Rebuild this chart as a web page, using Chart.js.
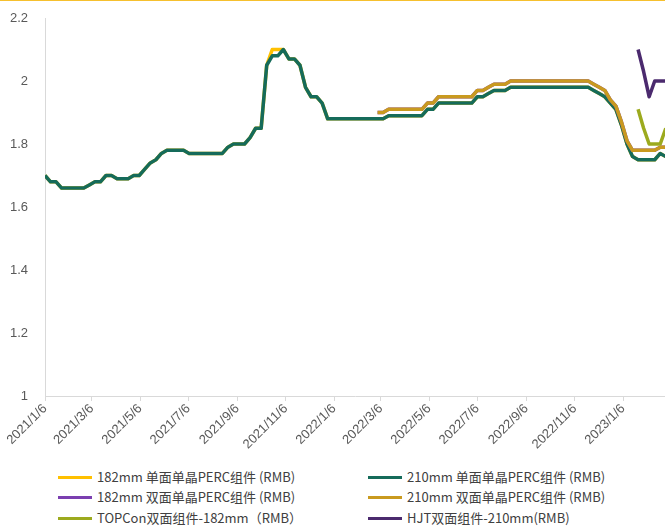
<!DOCTYPE html>
<html>
<head>
<meta charset="utf-8">
<script src="https://cdn.jsdelivr.net/npm/chart.js@4.4.0/dist/chart.umd.min.js"></script>
<style>
  html, body { margin: 0; padding: 0; background: #fff; }
  #wrap { position: relative; width: 665px; height: 527px; overflow: hidden; background: #fff; }
  #topline { position: absolute; left: 0; top: 0; width: 665px; height: 1px; background: #f6c02e; z-index: 2; }
  #chart { position: absolute; left: 0; top: 0; }
  #legend { position: absolute; left: 0; top: 467px; width: 665px; height: 60px;
            font-family: "Noto Sans CJK SC", "Noto Sans", sans-serif; font-size: 13px; color: #404040; }
  .item { position: absolute; height: 20px; line-height: 20px; white-space: nowrap; }
  .swatch { position: absolute; left: 0; top: 9px; width: 34px; height: 3px; }
  .label { position: absolute; left: 39px; top: 0; }
</style>
</head>
<body>
<div id="wrap">
  <div id="topline"></div>
  <canvas id="chart" width="665" height="462"></canvas>
  <div id="legend"></div>
</div>
<script>
// Weekly module price quotes (RMB/W), first quote on 2021/1/6, one per week.
const startDate = '2021-01-06';

const seriesNames = [
  '182mm 单面单晶PERC组件 (RMB)',
  '210mm 单面单晶PERC组件 (RMB)',
  '182mm 双面单晶PERC组件 (RMB)',
  '210mm 双面单晶PERC组件 (RMB)',
  'TOPCon双面组件-182mm（RMB）',
  'HJT双面组件-210mm(RMB)'
];
const seriesColors = ['#ffc000', '#156b5a', '#7b3fb0', '#c99a1f', '#9caa1e', '#4b2a6e'];

const _ = null;

const mono182 = [
  1.70,1.68,1.68,1.66,1.66,1.66,1.66,1.66,1.67,1.68,
  1.68,1.70,1.70,1.69,1.69,1.69,1.70,1.70,1.72,1.74,
  1.75,1.77,1.78,1.78,1.78,1.78,1.77,1.77,1.77,1.77,
  1.77,1.77,1.77,1.79,1.80,1.80,1.80,1.82,1.85,1.85,
  2.05,2.10,2.10,2.10,2.07,2.07,2.05,1.98,1.95,1.95,
  1.93,1.88,1.88,1.88,1.88,1.88,1.88,1.88,1.88,1.88,
  1.88,1.88,1.89,1.89,1.89,1.89,1.89,1.89,1.89,1.91,
  1.91,1.93,1.93,1.93,1.93,1.93,1.93,1.93,1.95,1.95,
  1.96,1.97,1.97,1.97,1.98,1.98,1.98,1.98,1.98,1.98,
  1.98,1.98,1.98,1.98,1.98,1.98,1.98,1.98,1.98,1.97,
  1.96,1.95,1.93,1.91,1.86,1.80,1.76,1.75,1.75,1.75,
  1.75,1.77,1.76
];
const mono210 = [
  1.70,1.68,1.68,1.66,1.66,1.66,1.66,1.66,1.67,1.68,
  1.68,1.70,1.70,1.69,1.69,1.69,1.70,1.70,1.72,1.74,
  1.75,1.77,1.78,1.78,1.78,1.78,1.77,1.77,1.77,1.77,
  1.77,1.77,1.77,1.79,1.80,1.80,1.80,1.82,1.85,1.85,
  2.05,2.08,2.08,2.10,2.07,2.07,2.05,1.98,1.95,1.95,
  1.93,1.88,1.88,1.88,1.88,1.88,1.88,1.88,1.88,1.88,
  1.88,1.88,1.89,1.89,1.89,1.89,1.89,1.89,1.89,1.91,
  1.91,1.93,1.93,1.93,1.93,1.93,1.93,1.93,1.95,1.95,
  1.96,1.97,1.97,1.97,1.98,1.98,1.98,1.98,1.98,1.98,
  1.98,1.98,1.98,1.98,1.98,1.98,1.98,1.98,1.98,1.97,
  1.96,1.95,1.93,1.91,1.86,1.80,1.76,1.75,1.75,1.75,
  1.75,1.77,1.76
];
const bifi182 = [
  _,_,_,_,_,_,_,_,_,_, _,_,_,_,_,_,_,_,_,_,
  _,_,_,_,_,_,_,_,_,_, _,_,_,_,_,_,_,_,_,_,
  _,_,_,_,_,_,_,_,_,_, _,_,_,_,_,_,_,_,_,_,
  1.90,1.90,1.91,1.91,1.91,1.91,1.91,1.91,1.91,1.93,
  1.93,1.95,1.95,1.95,1.95,1.95,1.95,1.95,1.97,1.97,
  1.98,1.99,1.99,1.99,2.00,2.00,2.00,2.00,2.00,2.00,
  2.00,2.00,2.00,2.00,2.00,2.00,2.00,2.00,2.00,1.99,
  1.98,1.97,1.94,1.92,1.87,1.81,1.78,1.78,1.78,1.78,
  1.78,1.79,1.79
];
const bifi210 = [
  _,_,_,_,_,_,_,_,_,_, _,_,_,_,_,_,_,_,_,_,
  _,_,_,_,_,_,_,_,_,_, _,_,_,_,_,_,_,_,_,_,
  _,_,_,_,_,_,_,_,_,_, _,_,_,_,_,_,_,_,_,_,
  1.90,1.90,1.91,1.91,1.91,1.91,1.91,1.91,1.91,1.93,
  1.93,1.95,1.95,1.95,1.95,1.95,1.95,1.95,1.97,1.97,
  1.98,1.99,1.99,1.99,2.00,2.00,2.00,2.00,2.00,2.00,
  2.00,2.00,2.00,2.00,2.00,2.00,2.00,2.00,2.00,1.99,
  1.98,1.97,1.94,1.92,1.87,1.81,1.78,1.78,1.78,1.78,
  1.78,1.79,1.79
];
const topcon182 = [];
topcon182[107] = 1.91; topcon182[108] = 1.85; topcon182[109] = 1.80;
topcon182[110] = 1.80; topcon182[111] = 1.80; topcon182[112] = 1.85;
const hjt210 = [];
hjt210[107] = 2.10; hjt210[108] = 2.03; hjt210[109] = 1.95;
hjt210[110] = 2.00; hjt210[111] = 2.00; hjt210[112] = 2.00;

const seriesValues = [mono182, mono210, bifi182, bifi210, topcon182, hjt210];

// Axis labels
const xTickLabels = ['2021/1/6','2021/3/6','2021/5/6','2021/7/6','2021/9/6','2021/11/6',
  '2022/1/6','2022/3/6','2022/5/6','2022/7/6','2022/9/6','2022/11/6','2023/1/6'];
const yTickLabels = ['1','1.2','1.4','1.6','1.8','2','2.2'];

const DAY = 86400000;
const t0 = Date.parse(startDate + 'T00:00:00Z');
function dayOffset(label) {
  const [y, m, d] = label.split('/').map(Number);
  return Math.round((Date.UTC(y, m - 1, d) - t0) / DAY);
}
const xTickDays = xTickLabels.map(dayOffset);

const datasets = seriesNames.map((name, i) => {
  const pts = [];
  for (let k = 0; k < seriesValues[i].length; k++) {
    const v = seriesValues[i][k];
    if (v !== undefined && v !== null) pts.push({ x: k * 7, y: v });
  }
  return {
    label: name,
    data: pts,
    borderColor: seriesColors[i],
    backgroundColor: seriesColors[i],
    borderWidth: 3.5,
    pointRadius: 0,
    tension: 0,
    fill: false,
    borderJoinStyle: 'round',
    order: seriesNames.length - i
  };
});

const tickFont = { family: '"Liberation Sans", Arial, sans-serif', size: 13 };

new Chart(document.getElementById('chart'), {
  type: 'line',
  data: { datasets },
  options: {
    responsive: false,
    animation: false,
    events: [],
    layout: { padding: { top: 18, left: 0, right: 0, bottom: 0 } },
    plugins: { legend: { display: false }, tooltip: { enabled: false } },
    scales: {
      x: {
        type: 'linear',
        min: 0,
        max: 783,
        afterBuildTicks: (scale) => { scale.ticks = xTickDays.map(v => ({ value: v })); },
        afterFit: (scale) => { scale.height = 462 - 18 - 378; },
        ticks: {
          autoSkip: false,
          maxRotation: 45,
          minRotation: 45,
          padding: 0,
          color: '#595959',
          font: tickFont,
          callback: (v) => { const i = xTickDays.indexOf(v); return i >= 0 ? xTickLabels[i] : ''; }
        },
        grid: { display: true, drawOnChartArea: false, drawTicks: true, tickLength: 5, color: '#d9d9d9' },
        border: { display: true, color: '#d9d9d9', width: 1 }
      },
      y: {
        type: 'linear',
        min: 1,
        max: 2.2,
        afterBuildTicks: (scale) => { scale.ticks = yTickLabels.map(s => ({ value: parseFloat(s) })); },
        afterFit: (scale) => { scale.width = 45; },
        ticks: {
          padding: 9,
          color: '#595959',
          font: tickFont,
          callback: (v) => { const i = yTickLabels.map(parseFloat).indexOf(v); return i >= 0 ? yTickLabels[i] : ''; }
        },
        grid: { display: false },
        border: { display: true, color: '#d9d9d9', width: 1 }
      }
    }
  }
});

// Legend laid out in two columns
const legend = document.getElementById('legend');
const colX = [58, 368];
const rowY = [0, 20, 41];
seriesNames.forEach((name, i) => {
  const item = document.createElement('div');
  item.className = 'item';
  item.style.left = colX[i % 2] + 'px';
  item.style.top = rowY[Math.floor(i / 2)] + 'px';
  const sw = document.createElement('span');
  sw.className = 'swatch';
  sw.style.background = seriesColors[i];
  const lb = document.createElement('span');
  lb.className = 'label';
  lb.textContent = name;
  item.appendChild(sw);
  item.appendChild(lb);
  legend.appendChild(item);
});
</script>
</body>
</html>
